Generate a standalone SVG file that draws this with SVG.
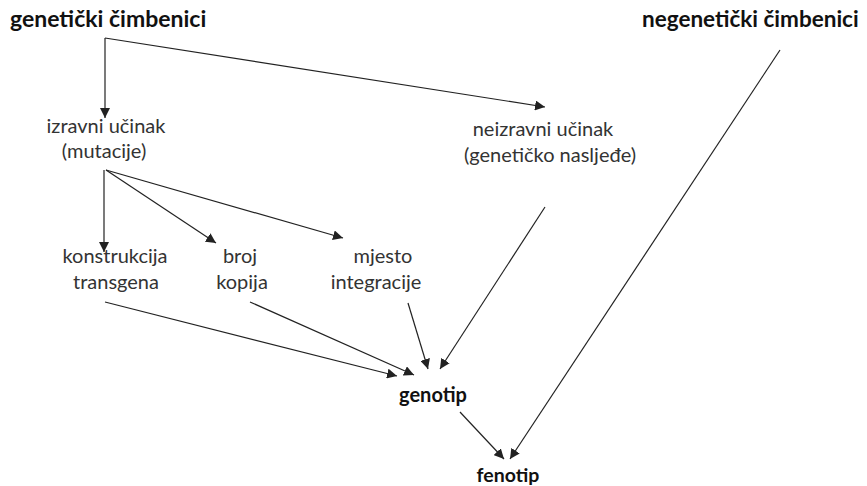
<svg xmlns="http://www.w3.org/2000/svg" width="867" height="486" viewBox="0 0 867 486">
<defs>
<marker id="ah" viewBox="0 0 10 10" refX="10" refY="5" markerWidth="10" markerHeight="10" markerUnits="userSpaceOnUse" orient="auto">
<path d="M0,0 L10,5 L0,10 z" fill="#222"/>
</marker>
</defs>
<style>
.b{font-family:Lato,"Open Sans",sans-serif;font-weight:bold;font-size:23px;fill:#111}
.r{font-family:Lato,"Open Sans",sans-serif;font-size:20px;fill:#333;text-anchor:middle}
.c{stroke:#222;stroke-width:1.2;fill:none;marker-end:url(#ah)}
</style>
<rect width="867" height="486" fill="#fff"/>
<g id="genetski"><text class="b" x="10" y="27">genetički čimbenici</text></g>
<g id="negenetski"><text class="b" x="642" y="27" style="font-size:22.5px">negenetički čimbenici</text></g>
<g id="izravni"><text class="r" x="106" y="133">izravni učinak</text><text class="r" x="104" y="158">(mutacije)</text></g>
<g id="neizravni"><text class="r" x="543" y="136">neizravni učinak</text><text class="r" x="550" y="162">(genetičko nasljeđe)</text></g>
<g id="konstrukcija"><text class="r" x="115" y="263">konstrukcija</text><text class="r" x="116" y="289">transgena</text></g>
<g id="broj"><text class="r" x="240" y="263">broj</text><text class="r" x="242" y="289">kopija</text></g>
<g id="mjesto"><text class="r" x="383" y="263">mjesto</text><text class="r" x="376" y="289">integracije</text></g>
<g id="genotip"><text class="b" x="433" y="402" text-anchor="middle" style="font-size:20px">genotip</text></g>
<g id="fenotip"><text class="b" x="508" y="482" text-anchor="middle" style="font-size:19.5px">fenotip</text></g>
<g id="connectors">
<path class="c" d="M105,38 L105,118"/>
<path class="c" d="M105,38 L545,107"/>
<path class="c" d="M104,170 L104,252"/>
<path class="c" d="M106,170 L216,243"/>
<path class="c" d="M106,170 L343,238"/>
<path class="c" d="M105,302 L397,376"/>
<path class="c" d="M250,302 L414,375"/>
<path class="c" d="M408,303 L428,369"/>
<path class="c" d="M545,207 L440,369"/>
<path class="c" d="M460,412 L504,459"/>
<path class="c" d="M780,50 L510,459"/>
</g>
</svg>
